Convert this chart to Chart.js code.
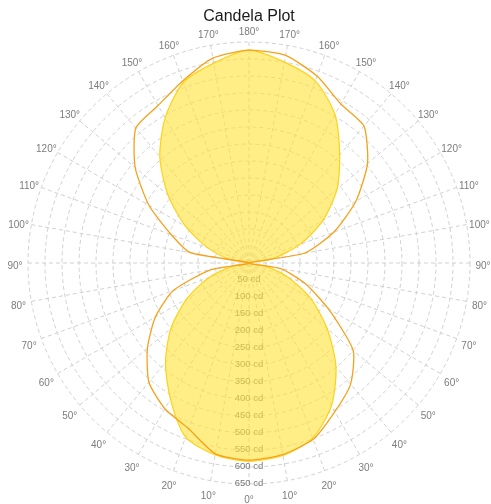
<!DOCTYPE html>
<html>
<head>
<meta charset="utf-8">
<script src="https://cdn.jsdelivr.net/npm/chart.js@4/dist/chart.umd.min.js"></script>
<style>
  html, body { margin: 0; padding: 0; background: #ffffff; }
  canvas { display: block; }
</style>
</head>
<body>
<canvas id="c" width="491" height="504"></canvas>
<script>
// Angle labels, clockwise from the top (180°) down the right side to 0° and up the left side
const angleLabels = ['180°','170°','160°','150°','140°','130°','120°','110°','100°','90°',
  '80°','70°','60°','50°','40°','30°','20°','10°','0°',
  '10°','20°','30°','40°','50°','60°','70°','80°','90°',
  '100°','110°','120°','130°','140°','150°','160°','170°'];

// Radial tick values (cd)
const tickValues = [50,100,150,200,250,300,350,400,450,500,550,600,650];

// Filled (yellow) plane, candela, same angle order as angleLabels
const planeA = [626, 600, 570, 505, 415, 338, 252, 160, 70, 0,
  45, 122, 210, 300, 398, 485, 548, 575, 583,
  573, 545, 462, 382, 300, 212, 125, 45, 0,
  55, 128, 215, 311, 408, 493, 565, 597];

// Outline (orange) plane, candela
const planeB = [626, 620, 585, 540, 526, 455, 363, 266, 165, 0,
  95, 175, 270, 400, 465, 505, 552, 572, 580,
  570, 519, 495, 458, 390, 318, 237, 115, 0,
  175, 243, 340, 437, 518, 535, 570, 612];

const labelPlugin = {
  id: 'candelaLabels',
  beforeDatasetsDraw(chart) {
    const s = chart.scales.r;
    const ctx = chart.ctx;
    ctx.save();
    ctx.textAlign = 'center';
    ctx.textBaseline = 'middle';
    // radial tick labels, running downwards from the centre
    ctx.font = '9.5px "Liberation Sans", Arial, sans-serif';
    ctx.fillStyle = '#7a7a7a';
    tickValues.forEach(v => {
      const d = s.getDistanceFromCenterForValue(v);
      ctx.fillText(v + ' cd', s.xCenter, s.yCenter + d - 1);
    });
    // angle labels, centred on each spoke outside the outer ring
    ctx.font = '10px "Liberation Sans", Arial, sans-serif';
    ctx.fillStyle = '#7c7c7c';
    angleLabels.forEach((lab, i) => {
      const p = s.getPointPosition(i, s.drawingArea + 13);
      ctx.fillText(lab, p.x, p.y + 3);
    });
    ctx.restore();
  }
};

new Chart(document.getElementById('c'), {
  type: 'radar',
  data: {
    labels: angleLabels,
    datasets: [
      {
        label: 'C0-C180',
        data: planeA,
        fill: true,
        backgroundColor: 'rgba(255,226,60,0.62)',
        borderColor: '#FFD21A',
        borderWidth: 1.2,
        pointRadius: 0,
        tension: 0.25,
        order: 2
      },
      {
        label: 'C90-C270',
        data: planeB,
        fill: false,
        borderColor: '#F7A11A',
        borderWidth: 1.3,
        pointRadius: 0,
        tension: 0.2,
        order: 1
      }
    ]
  },
  plugins: [labelPlugin],
  options: {
    responsive: false,
    animation: false,
    devicePixelRatio: 1,
    layout: { padding: { top: 0, bottom: 19.8, left: 28, right: 21 } },
    plugins: {
      legend: { display: false },
      tooltip: { enabled: false },
      title: {
        display: true,
        text: 'Candela Plot',
        color: '#1a1a1a',
        font: { family: '"Liberation Sans", Arial, sans-serif', size: 16, weight: 'normal' },
        padding: { top: 7, bottom: 16 }
      }
    },
    scales: {
      r: {
        min: 0,
        max: 650,
        ticks: { stepSize: 50, display: false },
        grid: { circular: true, color: '#d0d0d0', lineWidth: 1 },
        border: { dash: [4, 3] },
        angleLines: { display: true, color: '#d0d0d0', lineWidth: 1, borderDash: [4, 3] },
        pointLabels: { display: false }
      }
    }
  }
});
</script>
</body>
</html>
